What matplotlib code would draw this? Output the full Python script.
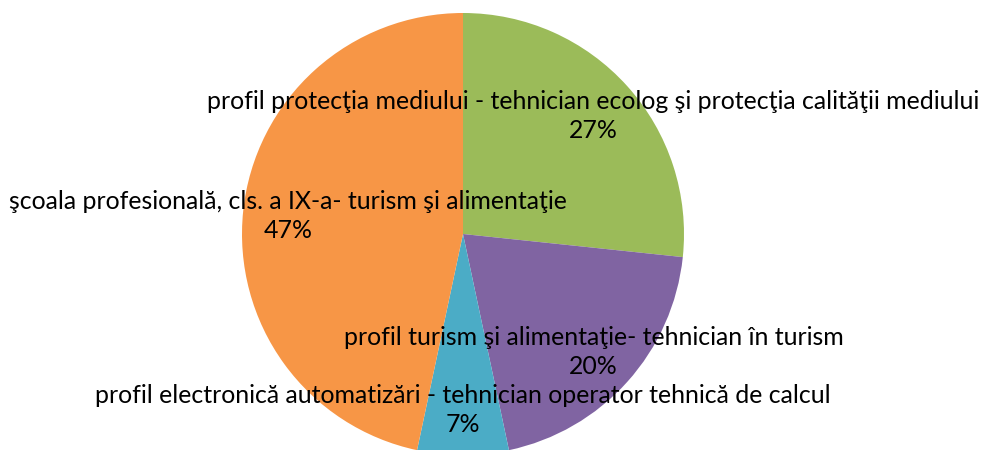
import matplotlib.pyplot as plt

# Student counts per profile (shares: 4/15, 3/15, 1/15, 7/15)
labels = [
    "profil protecţia mediului - tehnician ecolog şi protecţia calităţii mediului",
    "profil turism şi alimentaţie- tehnician în turism",
    "profil electronică automatizări - tehnician operator tehnică de calcul",
    "şcoala profesională, cls. a IX-a- turism şi alimentaţie",
]
values = [4, 3, 1, 7]
colors = ["#9BBB59", "#8064A2", "#4BACC6", "#F79646"]

total = sum(values)
texts = [f"{lab}\n{round(100 * v / total)}%" for lab, v in zip(labels, values)]

fig = plt.figure(figsize=(9.83, 4.5), dpi=100)
ax = fig.add_axes([0, 0, 1, 1])

wedges, label_texts = ax.pie(
    values,
    labels=texts,
    colors=colors,
    startangle=90,
    counterclock=False,
    center=(463, 216),
    radius=221,
    labeldistance=0.795,
    textprops=dict(fontsize=17.9, family="Lato", color="black"),
)
for t in label_texts:
    t.set_horizontalalignment("center")
    t.set_verticalalignment("center")
    t.set_multialignment("center")
    t.set_linespacing(1.32)

ax.set_xlim(0, 983)
ax.set_ylim(0, 450)
ax.set_aspect("equal")
ax.axis("off")

fig.savefig("out.png", dpi=100)
